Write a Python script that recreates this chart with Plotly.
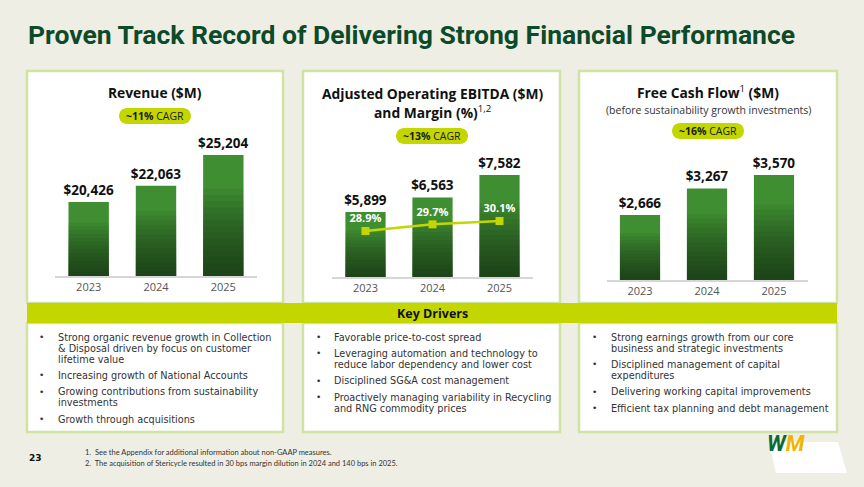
import plotly.graph_objects as go

W, H = 864, 487

# ---- data ----
years = ["2023", "2024", "2025"]
revenue = [20426, 22063, 25204]
ebitda = [5899, 6563, 7582]
ebitda_margin = [28.9, 29.7, 30.1]
fcf = [2666, 3267, 3570]
cagr_labels = ["~11%", "~13%", "~16%"]

drivers_rev = [
    ["Strong organic revenue growth in Collection",
     "& Disposal driven by focus on customer",
     "lifetime value"],
    ["Increasing growth of National Accounts"],
    ["Growing contributions from sustainability", "investments"],
    ["Growth through acquisitions"],
]
drivers_ebitda = [
    ["Favorable price-to-cost spread"],
    ["Leveraging automation and technology to",
     "reduce labor dependency and lower cost"],
    ["Disciplined SG&A cost management"],
    ["Proactively managing variability in Recycling",
     "and RNG commodity prices"],
]
drivers_fcf = [
    ["Strong earnings growth from our core",
     "business and strategic investments"],
    ["Disciplined management of capital", "expenditures"],
    ["Delivering working capital improvements"],
    ["Efficient tax planning and debt management"],
]
footnotes = [
    "1.  See the Appendix for additional information about non-GAAP measures.",
    "2.  The acquisition of Stericycle resulted in 30 bps margin dilution in 2024 and 140 bps in 2025.",
]

# ---- colours / fonts ----
BG = "#efeee4"
DARK_GREEN = "#0c4a2a"
LIME = "#c3d600"
BAR_GREEN = "#3f8e32"
BORDER = "#cfe4a3"
SANS = "Open Sans"
BODY = "DejaVu Sans"


def X(px):
    return px / W


def Y(py):
    return 1 - py / H


def pill_path(cx, cy, w, h):
    r = h / 2
    k = 0.5523 * r
    x0, x1 = cx - w / 2, cx + w / 2
    y0, y1 = cy - r, cy + r

    def p(x, y):
        return f"{X(x):.5f},{Y(y):.5f}"

    return (f"M {p(x0 + r, y0)} L {p(x1 - r, y0)} "
            f"C {p(x1 - r + k, y0)} {p(x1, cy - k)} {p(x1, cy)} "
            f"C {p(x1, cy + k)} {p(x1 - r + k, y1)} {p(x1 - r, y1)} "
            f"L {p(x0 + r, y1)} "
            f"C {p(x0 + r - k, y1)} {p(x0, cy + k)} {p(x0, cy)} "
            f"C {p(x0, cy - k)} {p(x0 + r - k, y0)} {p(x0 + r, y0)} Z")


def text(x, y, s, size, color="#111", family=SANS, xanchor="center", yanchor="middle"):
    return dict(x=X(x), y=Y(y), xref="paper", yref="paper", text=s, showarrow=False,
                xanchor=xanchor, yanchor=yanchor, align="left",
                font=dict(size=size, color=color, family=family))


fig = go.Figure()

# panel axes: (xaxis, yaxis, values, range bottom, range top, x px domain, y px bottom)
panels = [
    ("x", "y", revenue, 12904, 26722, (55, 257), 276),
    ("x2", "y2", ebitda, 2942, 9175, (332, 533), 277),
    ("x3", "y4", fcf, 1197, 4361, (606.5, 807.5), 280),
]
PLOT_TOP = 140
STEPS = 14

for xa, ya, vals, lo, hi, _, _ in panels:
    fig.add_trace(go.Bar(
        x=years, y=vals, xaxis=xa, yaxis=ya, width=0.6,
        marker=dict(color=BAR_GREEN, line=dict(width=0)),
        text=[f"<b>${v:,}</b>" for v in vals], textposition="outside",
        outsidetextfont=dict(size=13.5, color="#111", family=SANS),
        constraintext="none", cliponaxis=False, hoverinfo="skip",
    ))
    # darker overlays toward the bottom for a gradient look
    for k in range(1, STEPS + 1):
        f = 0.72 * k / STEPS
        fig.add_trace(go.Bar(
            x=years, y=[lo + f * (v - lo) for v in vals], xaxis=xa, yaxis=ya,
            width=0.6, marker=dict(color="rgba(10,35,8,0.066)", line=dict(width=0)),
            hoverinfo="skip",
        ))

fig.add_trace(go.Scatter(
    x=years, y=ebitda_margin, xaxis="x2", yaxis="y3",
    mode="lines+markers+text",
    line=dict(color=LIME, width=2.5),
    marker=dict(symbol="square", size=8, color=LIME),
    text=[f"<b>{m}%</b>" for m in ebitda_margin], textposition="top center",
    textfont=dict(size=11, color="white", family=SANS),
    cliponaxis=False, hoverinfo="skip",
))

axis_common = dict(type="category", showgrid=False, zeroline=False, ticks="",
                   showline=True, linecolor="#d6d6d6", linewidth=1.5,
                   tickfont=dict(size=11, color="#555", family=SANS),
                   range=[-0.5, 2.5], fixedrange=True)
layout_axes = {}
for i, (xa, ya, vals, lo, hi, (dx0, dx1), ybot) in enumerate(panels):
    xname = "xaxis" if xa == "x" else "xaxis" + xa[1:]
    yname = "yaxis" if ya == "y" else "yaxis" + ya[1:]
    layout_axes[xname] = dict(axis_common, domain=[X(dx0), X(dx1)], anchor=ya)
    layout_axes[yname] = dict(domain=[Y(ybot), Y(PLOT_TOP)], range=[lo, hi],
                              visible=False, fixedrange=True, anchor=xa)
layout_axes["yaxis3"] = dict(overlaying="y2", range=[23.38, 39.82], visible=False,
                             fixedrange=True, anchor="x2")

shapes = []
annotations = []

# panels
for x0, x1 in [(27, 283), (303, 560), (579, 837)]:
    for y0, y1 in [(71, 303), (323, 432)]:
        shapes.append(dict(type="rect", xref="paper", yref="paper", layer="below",
                           x0=X(x0), x1=X(x1), y0=Y(y1), y1=Y(y0),
                           fillcolor="white", line=dict(color=BORDER, width=2.5)))
# key drivers band
shapes.append(dict(type="rect", xref="paper", yref="paper", layer="below",
                   x0=X(27), x1=X(837), y0=Y(323), y1=Y(303),
                   fillcolor=LIME, line=dict(width=0)))
annotations.append(text(432, 313.5, "<b>Key Drivers</b>", 12.5, "#111"))

# CAGR pills
for (cx, cy), lab in zip([(155, 116), (432, 136), (708, 131)], cagr_labels):
    shapes.append(dict(type="path", xref="paper", yref="paper", layer="below",
                       path=pill_path(cx, cy, 72, 16), fillcolor=LIME, line=dict(width=0)))
    annotations.append(text(cx, cy, f"<b>{lab}</b> CAGR", 10.5, "#1a1a1a"))

# panel titles
annotations += [
    text(155, 92, "<b>Revenue ($M)</b>", 13.8),
    text(432, 93, "<b>Adjusted Operating EBITDA ($M)</b>", 13.8),
    text(432, 112, "<b>and Margin (%)</b><sup>1,2</sup>", 13.8),
    text(708, 92, "<b>Free Cash Flow</b><sup>1</sup><b> ($M)</b>", 13.8),
    text(708, 109.5, "(before sustainability growth investments)", 10.5, "#333"),
]

# bullets
LINE_H, GAP = 11, 5.4
for items, dot_x, txt_x in [(drivers_rev, 41, 56), (drivers_ebitda, 318, 332),
                            (drivers_fcf, 594, 609)]:
    y = 337
    for lines in items:
        annotations.append(text(dot_x, y, "•", 9, "#333", BODY))
        for j, line in enumerate(lines):
            annotations.append(text(txt_x, y + j * LINE_H, line, 9.7, "#333", BODY,
                                    xanchor="left"))
        y += len(lines) * LINE_H + GAP

# footnotes, page number
for i, note in enumerate(footnotes):
    annotations.append(text(83, 452 + i * 11, note, 7.5, "#333", "Lato", xanchor="left"))
annotations.append(text(27, 458, "<b>23</b>", 9, "#111", BODY, xanchor="left"))

# title
annotations.append(dict(x=X(26), y=Y(34), xref="paper", yref="paper", showarrow=False,
                        xanchor="left", yanchor="middle",
                        text="<b>Proven Track Record of Delivering Strong Financial Performance</b>",
                        font=dict(size=26.5, color=DARK_GREEN, family="Roboto")))

# WM logo
logo = [(769, 442), (838, 442), (847, 473), (776, 473)]
shapes.append(dict(type="path", xref="paper", yref="paper",
                   path="M " + " L ".join(f"{X(a):.5f},{Y(b):.5f}" for a, b in logo) + " Z",
                   fillcolor="white", line=dict(width=0)))
annotations.append(dict(x=X(807), y=Y(458), xref="paper", yref="paper", showarrow=False,
                        text="<b><i><span style='color:#0b6b35'>W</span>"
                             "<span style='color:#f2b400'>M</span></i></b>",
                        font=dict(size=22, family="Roboto", weight=900)))

fig.update_layout(
    width=W, height=H, margin=dict(l=0, r=0, t=0, b=0),
    paper_bgcolor=BG, plot_bgcolor="rgba(0,0,0,0)",
    barmode="overlay", showlegend=False,
    shapes=shapes, annotations=annotations,
    **layout_axes,
)

fig.write_html("out.html", config={"displayModeBar": False},
               post_script="document.body.style.margin='0';")
